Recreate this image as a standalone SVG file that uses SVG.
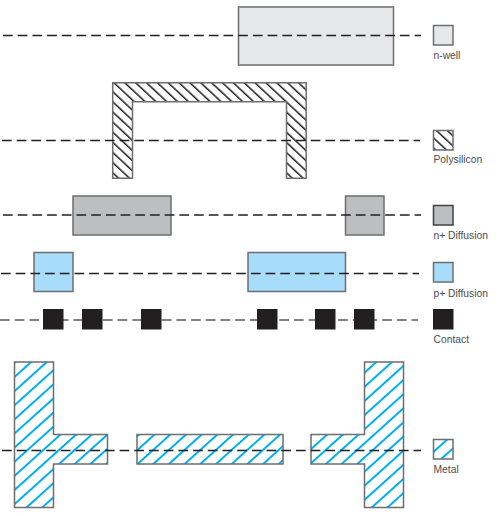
<svg xmlns="http://www.w3.org/2000/svg" width="501" height="516" viewBox="0 0 501 516">
<style>
.outline{stroke:#6d6e71;stroke-width:1.5}
.well{fill:#e6e7e8}
.poly{fill:url(#polyHatch)}
.ndiff{fill:#bcbec0}
.pdiff{fill:#a8dcfb}
.contact{fill:#231f20;stroke:none}
.metal{fill:url(#metalHatch)}
.cut{fill:none;stroke:#231f20;stroke-width:1.5;stroke-dasharray:9.7 5}
text{font-family:"Liberation Sans",Arial,sans-serif;font-size:10.300px;fill:#4d4d4f}
</style>
<defs>
<pattern id="polyHatch" width="7.400" height="7.400" patternUnits="userSpaceOnUse" patternTransform="translate(112 82) rotate(-47)">
<rect width="7.400" height="7.400" fill="#fff"/><rect width="1.500" height="7.400" fill="#231f20"/>
</pattern>
<pattern id="metalHatch" width="10.500" height="10.500" patternUnits="userSpaceOnUse" patternTransform="translate(14 362) rotate(48)">
<rect width="10.500" height="10.500" fill="#fff"/><rect width="2" height="10.500" fill="#00aeef"/>
</pattern>
</defs>
<g id="n-well-shapes"><rect class="well outline" x="238.500" y="7" width="155" height="58"/></g>
<g id="polysilicon-shape"><path class="poly outline" d="M112.700 82.700H306.200V178.300H286.500V101.700H132.500V178.300H112.700Z"/></g>
<g id="ndiff-shapes">
<rect class="ndiff outline" x="73" y="196" width="98" height="39"/>
<rect class="ndiff outline" x="345.500" y="196" width="38.500" height="39"/>
</g>
<g id="pdiff-shapes">
<rect class="pdiff outline" x="34" y="252.500" width="39" height="39"/>
<rect class="pdiff outline" x="248" y="252.500" width="97.500" height="39"/>
</g>
<g id="metal-shapes">
<path class="metal outline" d="M14.500 362H53.500V434.500H107.500V464H53.500V507.500H14.500Z"/>
<rect class="metal outline" x="137" y="434.500" width="146" height="29.500"/>
<path class="metal outline" d="M364.500 362H403.500V507.500H364.500V464H311V434.500H364.500Z"/>
</g>
<g id="connectors">
<path class="cut" d="M3 35.500H421"/>
<path class="cut" d="M2 140.500H420"/>
<path class="cut" d="M3 215H421"/>
<path class="cut" d="M1 273.500H419"/>
<path class="cut" style="stroke:#58595b" d="M0 320H418"/>
<path class="cut" d="M2 450.500H421"/>
</g>
<g id="contact-shapes">
<rect class="contact" x="43" y="309" width="20.500" height="20.500"/>
<rect class="contact" x="82" y="309" width="20.500" height="20.500"/>
<rect class="contact" x="141" y="309" width="20.500" height="20.500"/>
<rect class="contact" x="257" y="309" width="20.500" height="20.500"/>
<rect class="contact" x="315" y="309" width="20.500" height="20.500"/>
<rect class="contact" x="354" y="309" width="20.500" height="20.500"/>
</g>
<g id="legend-n-well"><rect class="well outline" x="433.500" y="25.500" width="19.500" height="19.500"/><text x="433.500" y="59">n-well</text></g>
<g id="legend-polysilicon"><rect class="poly outline" x="433.500" y="130.500" width="19.500" height="19.500"/><text x="433.500" y="162.500">Polysilicon</text></g>
<g id="legend-n-diffusion"><rect class="ndiff outline" style="stroke:#414042" x="433.500" y="205.500" width="19.500" height="19.500"/><text x="433.500" y="238.500">n+ Diffusion</text></g>
<g id="legend-p-diffusion"><rect class="pdiff outline" x="433.500" y="262.500" width="19.500" height="19.500"/><text x="433.500" y="296.500">p+ Diffusion</text></g>
<g id="legend-contact"><rect class="contact" x="433" y="309" width="20.500" height="20.500"/><text x="433.500" y="343">Contact</text></g>
<g id="legend-metal"><rect class="metal outline" x="433.500" y="439.500" width="19.500" height="19.500"/><text x="433.500" y="473">Metal</text></g>
</svg>
